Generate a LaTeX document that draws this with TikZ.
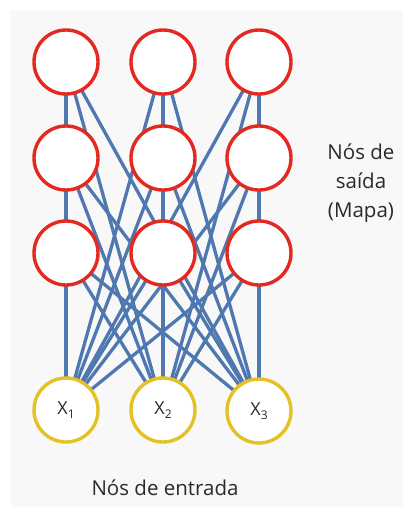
\documentclass[tikz,border=0pt]{standalone}
\usepackage{fontspec}
\setmainfont{Open Sans}
\usetikzlibrary{backgrounds}
\newcommand{\xsub}[1]{X\raisebox{-4pt}{\fontsize{12}{12}\selectfont #1}}
\begin{document}
\begin{tikzpicture}[x=1pt,y=-1pt,
  outn/.style={circle,draw=redc,line width=3.4pt,fill=white,minimum size=64pt,inner sep=0pt},
  inn/.style={circle,draw=yelc,line width=3.4pt,fill=white,minimum size=64pt,inner sep=0pt,font=\fontsize{18}{20}\selectfont,text=textc},
  link/.style={draw=bluec,line width=3.3pt},
  lbl/.style={font=\fontsize{20.5}{29}\selectfont,text=textc,align=center}]
\definecolor{redc}{HTML}{E42A20}
\definecolor{yelc}{HTML}{E6C126}
\definecolor{bluec}{HTML}{4F78B0}
\definecolor{textc}{HTML}{2A2A2A}
\definecolor{bgc}{HTML}{F8F8F8}
\useasboundingbox (0,0) rectangle (403,507);
\foreach \c/\x in {1/66,2/163,3/259}{
  \foreach \r/\y in {1/62,2/158,3/253}{
    \node[outn] (o\r\c) at (\x,\y) {};
  }
}
\node[inn] (x1) at (66,410) {\xsub{1}};
\node[inn] (x2) at (163,410) {\xsub{2}};
\node[inn] (x3) at (259,411) {\xsub{3}};
\node[lbl] (saida) at (361,183) {Nós de\\saída\\(Mapa)};
\node[lbl] (entrada) at (165,488) {Nós de entrada};
\begin{scope}[on background layer]
  \fill[white] (0,0) rectangle (403,507);
  \fill[bgc] (10,10) rectangle (403,507);
  \foreach \i in {1,2,3}{
    \foreach \r in {1,2,3}{
      \foreach \c in {1,2,3}{
        \draw[link] (x\i.center) -- (o\r\c.center);
      }
    }
  }
\end{scope}
\end{tikzpicture}
\end{document}
